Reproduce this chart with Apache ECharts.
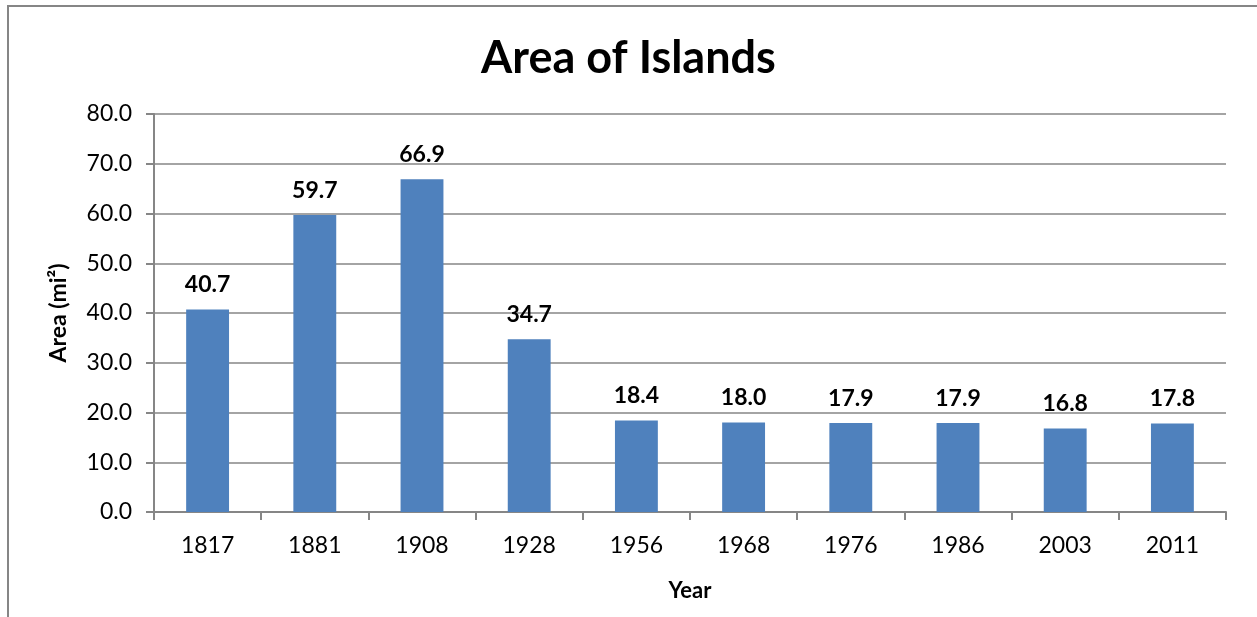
<!DOCTYPE html>
<html><head><meta charset="utf-8">
<script src="https://cdn.jsdelivr.net/npm/echarts@6/dist/echarts.min.js"></script>
<style>html,body{margin:0;padding:0;background:#fff}#c{width:1257px;height:617px}</style>
</head><body><div id="c"></div>
<script>
const years = ['1817','1881','1908','1928','1956','1968','1976','1986','2003','2011'];
const areas = [40.7, 59.7, 66.9, 34.7, 18.4, 18.0, 17.9, 17.9, 16.8, 17.8];
const titleText = 'Area of Islands';
const yName = 'Area (mi²)';
const xName = 'Year';
const FONT = 'Lato, "Open Sans", sans-serif';
const gray = '#868686';
const chart = echarts.init(document.getElementById('c'));
chart.setOption({
  animation: false,
  backgroundColor: '#fff',
  graphic: [{type:'rect', shape:{x:8,y:6,width:1400,height:800}, style:{fill:'none', stroke:gray, lineWidth:2}, z:-1}],
  title: {text: titleText, left: 'center', top: 31, textStyle:{fontFamily:FONT, fontWeight:'bold', fontSize:45, color:'#000'}},
  grid: {left:154, right:31, top:114, bottom:105},
  xAxis: {
    type:'category', data: years, name: xName, nameLocation:'middle', nameGap:68,
    nameTextStyle:{fontFamily:FONT, fontWeight:'bold', fontSize:22, color:'#000'},
    axisLine:{lineStyle:{color:gray, width:2}},
    axisTick:{show:true, length:8, lineStyle:{color:gray, width:2}},
    axisLabel:{fontFamily:FONT, fontSize:23, color:'#000', margin:22}
  },
  yAxis: {
    type:'value', min:0, max:80, interval:10, name: yName, nameLocation:'middle', nameGap:84,
    nameTextStyle:{fontFamily:FONT, fontWeight:'bold', fontSize:23, color:'#000'},
    axisLine:{show:true, lineStyle:{color:gray, width:2}},
    axisTick:{show:true, length:8, lineStyle:{color:gray, width:2}},
    splitLine:{lineStyle:{color:gray, width:1.5}},
    axisLabel:{fontFamily:FONT, fontSize:23, color:'#000', margin:22, formatter: v => v.toFixed(1)}
  },
  series: [{
    type:'bar', data: areas, barWidth:'40%', itemStyle:{color:'#4F81BD'},
    label:{show:true, position:'top', distance:13, fontFamily:FONT, fontWeight:'bold', fontSize:23, color:'#000', formatter: p => p.value.toFixed(1)}
  }]
});
</script></body></html>
